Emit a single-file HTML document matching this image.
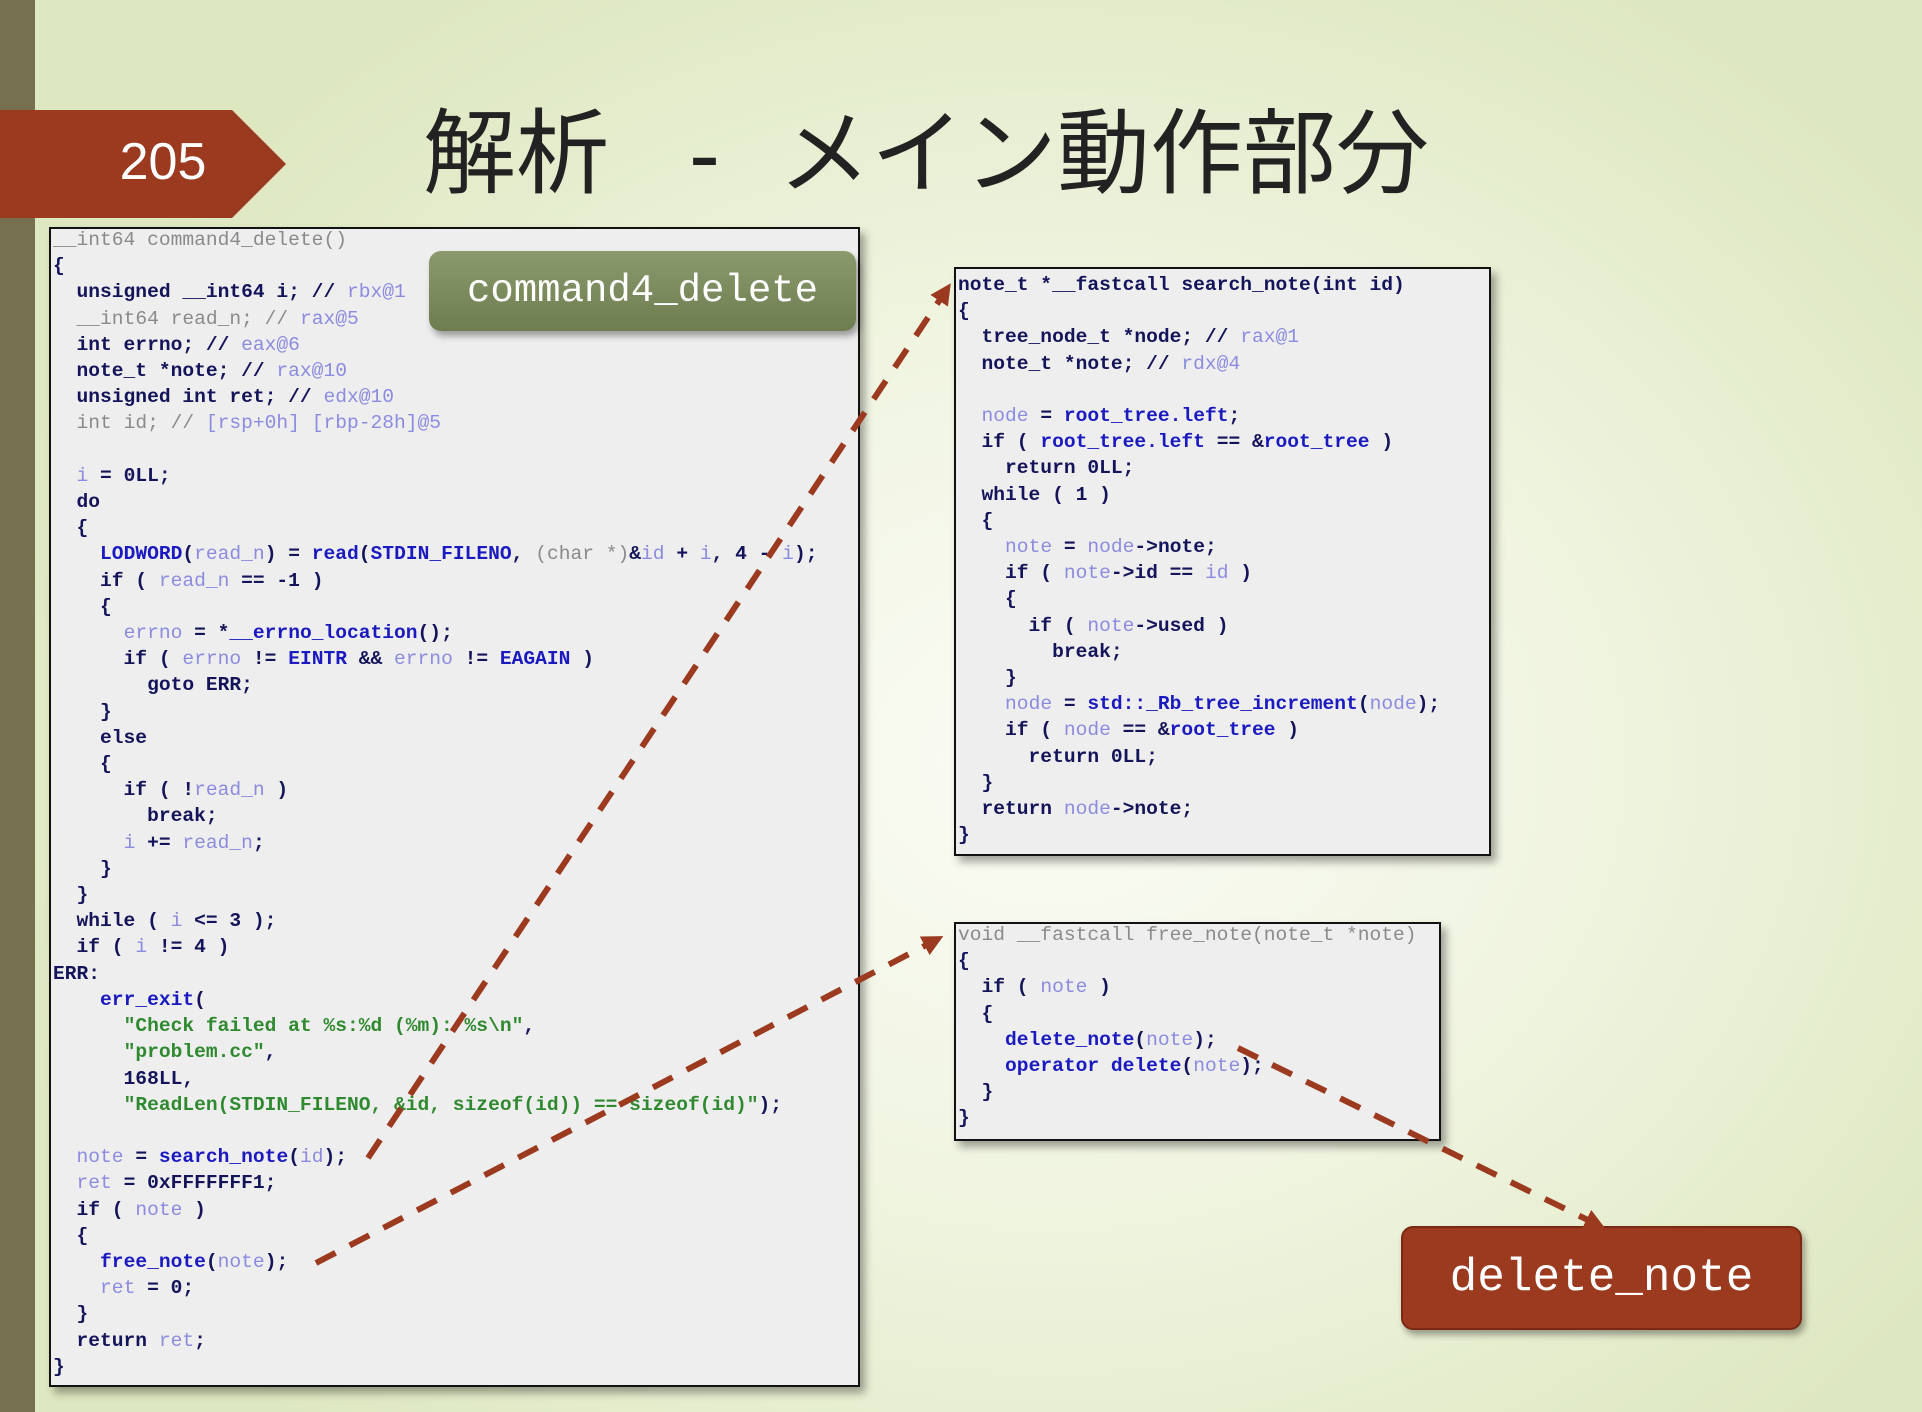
<!DOCTYPE html>
<html><head><meta charset="utf-8">
<style>
html,body{margin:0;padding:0}
body{width:1922px;height:1412px;position:relative;overflow:hidden;
background:radial-gradient(ellipse 1100px 900px at 1050px 760px,#fbfcf6 0%,#eef3dd 55%,#dde7c0 100%);
font-family:"Liberation Mono",monospace;}
.stripe{position:absolute;left:0;top:0;width:35px;height:1412px;background:#77704f}
.badge{position:absolute;left:0;top:110px;width:286px;height:108px;background:#9b3a1e;
clip-path:polygon(0 0,232px 0,286px 54px,232px 108px,0 108px)}
.badge span{position:absolute;left:0;width:326px;top:22px;text-align:center;color:#fff;font:52px "Liberation Sans",sans-serif}
.title{position:absolute;left:423px;top:78px;font:93px "Liberation Sans","Noto Sans CJK JP",sans-serif;color:#222;white-space:pre}
.sp{display:inline-block}
.box{position:absolute;background:#eeeeee;border:2px solid #111;box-shadow:5px 6px 8px rgba(0,0,0,.35)}
.code{position:absolute;margin:0;font:19.6px/26.2px "Liberation Mono",monospace;white-space:pre;color:#14145a;font-weight:bold}
.k{color:#14145a}.b{color:#1a1ac0}.v{color:#8b8be0;font-weight:normal}.g{color:#8a8a8a;font-weight:normal}.s{color:#2f8a2f}
.lab{position:absolute;border-radius:12px;color:#fff;font-family:"Liberation Mono",monospace;text-align:center;box-shadow:3px 5px 7px rgba(0,0,0,.35)}
</style></head><body>
<div class="stripe"></div>
<div class="badge"><span>205</span></div>
<div class="title">解析<span class="sp" style="width:80px"></span>-<span class="sp" style="width:58px"></span>メイン動作部分</div>

<div class="box" style="left:49px;top:227px;width:807px;height:1156px"></div>
<pre class="code" style="left:53px;top:227px"><span class="g">__int64 command4_delete()</span>
{
  unsigned __int64 i; // <span class="v">rbx@1</span>
  <span class="g">__int64 read_n; // </span><span class="v">rax@5</span>
  int errno; // <span class="v">eax@6</span>
  note_t *note; // <span class="v">rax@10</span>
  unsigned int ret; // <span class="v">edx@10</span>
  <span class="g">int id; // </span><span class="v">[rsp+0h] [rbp-28h]@5</span>

  <span class="v">i</span> = 0LL;
  do
  {
    <span class="b">LODWORD</span>(<span class="v">read_n</span>) = <span class="b">read</span>(<span class="b">STDIN_FILENO</span>, <span class="g">(char *)</span>&amp;<span class="v">id</span> + <span class="v">i</span>, 4 - <span class="v">i</span>);
    if ( <span class="v">read_n</span> == -1 )
    {
      <span class="v">errno</span> = *<span class="b">__errno_location</span>();
      if ( <span class="v">errno</span> != <span class="b">EINTR</span> &amp;&amp; <span class="v">errno</span> != <span class="b">EAGAIN</span> )
        goto ERR;
    }
    else
    {
      if ( !<span class="v">read_n</span> )
        break;
      <span class="v">i</span> += <span class="v">read_n</span>;
    }
  }
  while ( <span class="v">i</span> &lt;= 3 );
  if ( <span class="v">i</span> != 4 )
ERR:
    <span class="b">err_exit</span>(
      <span class="s">"Check failed at %s:%d (%m): %s\n"</span>,
      <span class="s">"problem.cc"</span>,
      168LL,
      <span class="s">"ReadLen(STDIN_FILENO, &amp;id, sizeof(id)) == sizeof(id)"</span>);

  <span class="v">note</span> = <span class="b">search_note</span>(<span class="v">id</span>);
  <span class="v">ret</span> = 0xFFFFFFF1;
  if ( <span class="v">note</span> )
  {
    <span class="b">free_note</span>(<span class="v">note</span>);
    <span class="v">ret</span> = 0;
  }
  return <span class="v">ret</span>;
}</pre>

<div class="lab" style="left:429px;top:251px;width:427px;height:80px;background:linear-gradient(#8b9a6c,#6e7d50);font-size:39px;line-height:80px">command4_delete</div>

<div class="box" style="left:954px;top:267px;width:533px;height:585px"></div>
<pre class="code" style="left:958px;top:272px">note_t *__fastcall search_note(int id)
{
  tree_node_t *node; // <span class="v">rax@1</span>
  note_t *note; // <span class="v">rdx@4</span>

  <span class="v">node</span> = <span class="b">root_tree.left</span>;
  if ( <span class="b">root_tree.left</span> == &amp;<span class="b">root_tree</span> )
    return 0LL;
  while ( 1 )
  {
    <span class="v">note</span> = <span class="v">node</span>-&gt;note;
    if ( <span class="v">note</span>-&gt;id == <span class="v">id</span> )
    {
      if ( <span class="v">note</span>-&gt;used )
        break;
    }
    <span class="v">node</span> = <span class="b">std::_Rb_tree_increment</span>(<span class="v">node</span>);
    if ( <span class="v">node</span> == &amp;<span class="b">root_tree</span> )
      return 0LL;
  }
  return <span class="v">node</span>-&gt;note;
}</pre>

<div class="box" style="left:954px;top:922px;width:483px;height:215px"></div>
<pre class="code" style="left:958px;top:922px"><span class="g">void __fastcall free_note(note_t *note)</span>
{
  if ( <span class="v">note</span> )
  {
    <span class="b">delete_note</span>(<span class="v">note</span>);
    <span class="b">operator delete</span>(<span class="v">note</span>);
  }
}</pre>

<div class="lab" style="left:1401px;top:1226px;width:401px;height:104px;background:#9b3a1e;border:2px solid #7a2a14;box-sizing:border-box;font-size:46px;line-height:100px">delete_note</div>

<svg width="1922" height="1412" style="position:absolute;left:0;top:0">
<defs><marker id="ah" markerWidth="3.5" markerHeight="3.5" refX="1.75" refY="1.75" orient="auto" markerUnits="strokeWidth">
<path d="M0,0 L3.5,1.75 L0,3.5 z" fill="#9b3a1e"/></marker></defs>
<g stroke="#9b3a1e" stroke-width="6" fill="none" stroke-dasharray="22 16">
<line x1="368" y1="1158" x2="945" y2="292" marker-end="url(#ah)"/>
<line x1="316" y1="1263" x2="934" y2="941" marker-end="url(#ah)"/>
<line x1="1238" y1="1048" x2="1596" y2="1224" marker-end="url(#ah)"/>
</g>
</svg>
</body></html>
